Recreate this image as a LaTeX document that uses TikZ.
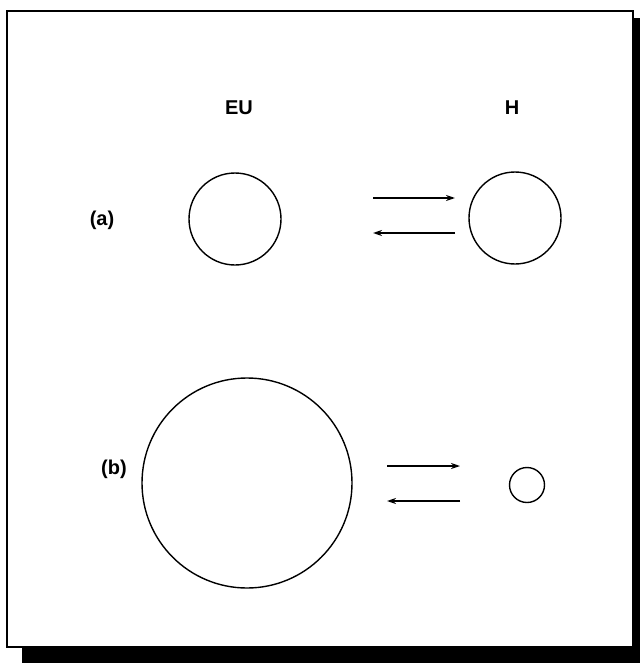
\documentclass[tikz,border=0pt]{standalone}
\usepackage{fontspec}
\setmainfont{Liberation Sans}
\usetikzlibrary{arrows.meta}
\tikzset{
  frame/.style={draw=black, line width=2pt},
  shadowband/.style={fill=black, draw=none},
  ball/.style={circle, draw=black, line width=1.4pt, inner sep=0pt},
  lbl/.style={font=\bfseries\fontsize{20}{20}\selectfont, inner sep=0pt},
  react/.style={line width=1.5pt, -{Stealth[length=9pt,width=6pt]}}
}
\begin{document}
\begin{tikzpicture}[x=1pt,y=-1pt]
\useasboundingbox (0,0) rectangle (640,663);
\fill[white] (0,0) rectangle (640,663);
% drop shadow
\fill[shadowband] (633,18) rectangle (640,663);
\fill[shadowband] (22,647) rectangle (640,663);
% frame
\draw[frame] (7,11) rectangle (633,647);
% column headings
\node[lbl] (eu) at (239,108) {EU};
\node[lbl] (h) at (512,108) {H};
% row (a)
\node[lbl] (la) at (102,220) {(a)};
\node[ball, minimum size=92pt] (eua) at (235,219) {};
\node[ball, minimum size=92pt] (ha) at (515,218) {};
\coordinate (a1) at (373,198);
\coordinate (a2) at (455,198);
\coordinate (a3) at (455,233);
\coordinate (a4) at (373,233);
\draw[react] (a1) -- (a2);
\draw[react] (a3) -- (a4);
% row (b)
\node[lbl] (lb) at (114,469) {(b)};
\node[ball, minimum size=210pt] (eub) at (247,483) {};
\node[ball, minimum size=35pt] (hb) at (527,485) {};
\coordinate (b1) at (387,466);
\coordinate (b2) at (460,466);
\coordinate (b3) at (460,501);
\coordinate (b4) at (387,501);
\draw[react] (b1) -- (b2);
\draw[react] (b3) -- (b4);
\end{tikzpicture}
\end{document}
